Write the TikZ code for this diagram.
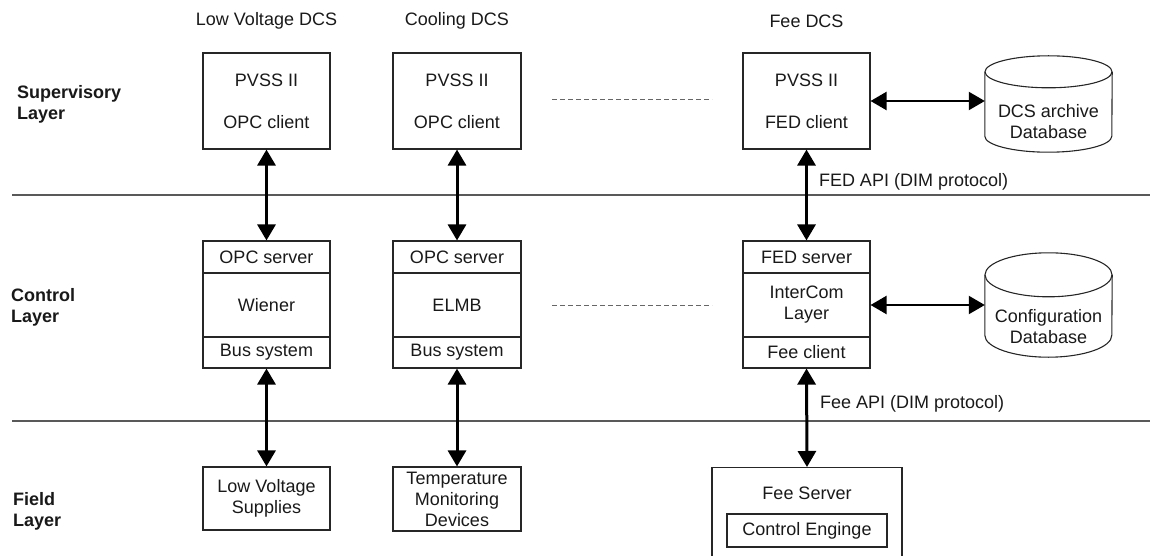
\documentclass[tikz,border=0pt]{standalone}
\usepackage{fontspec}
\setmainfont{Liberation Sans}
\usetikzlibrary{arrows.meta,calc}
\begin{document}
\begin{tikzpicture}[x=1pt,y=-1pt,
  every node/.style={font=\fontsize{18}{21}\selectfont, text=black!90, inner sep=0pt},
  box/.style={draw=black!85, line width=1.1pt, minimum width=127pt, align=center},
  sepline/.style={draw=black!65, line width=1.4pt},
  dotsep/.style={draw=black!60, line width=1pt, dash pattern=on 5pt off 3pt},
  tip/.tip={Triangle[length=16pt,width=18pt]},
  varrow/.style={line width=3pt, tip-tip},
  harrow/.style={line width=2.2pt, tip-tip},
  cyl/.style={draw=black!85, line width=1.1pt},
  layer/.style={font=\bfseries\fontsize{18}{21}\selectfont, align=left, anchor=west},
]
\useasboundingbox (0,0) rectangle (1150,556);
\clip (0,0) rectangle (1150,556);

% layer separators
\draw[sepline] (12,195) -- (1150,195);
\draw[sepline] (12,421) -- (1150,421);

% column headers
\node (h1) at (266.5,21) {Low Voltage DCS};
\node (h2) at (457,21) {Cooling DCS};
\node (h3) at (806.5,21) {Fee DCS};

% layer labels
\node[layer] (L1) at (17,104) {Supervisory\\Layer};
\node[layer] (L2) at (11,307) {Control\\Layer};
\node[layer] (L3) at (13,511.5) {Field\\Layer};

% supervisory boxes
\node[box, minimum height=96pt] (p1) at (266.5,101) {PVSS II\\[21pt]OPC client};
\node[box, minimum height=96pt, minimum width=128pt] (p2) at (457,101) {PVSS II\\[21pt]OPC client};
\node[box, minimum height=96pt] (p3) at (806.5,101) {PVSS II\\[21pt]FED client};

% control stacks
\node[box, minimum height=32pt] (s1) at (266.5,257) {OPC server};
\node[box, minimum height=64pt] (m1) at (266.5,305) {Wiener};
\node[box, minimum height=31pt] (b1) at (266.5,352.5) {Bus system};

\node[box, minimum height=32pt, minimum width=128pt] (s2) at (457,257) {OPC server};
\node[box, minimum height=64pt, minimum width=128pt] (m2) at (457,305) {ELMB};
\node[box, minimum height=31pt, minimum width=128pt] (b2) at (457,352.5) {Bus system};

\node[box, minimum height=32pt] (s3) at (806.5,257) {FED server};
\node[box, minimum height=64pt] (m3) at (806.5,305) {InterCom\\Layer};
\node[box, minimum height=31pt] (b3) at (806.5,352.5) {Fee client};

% field boxes
\node[box, minimum height=63pt] (f1) at (266.5,498.5) {Low Voltage\\Supplies};
\node[box, minimum height=64pt, minimum width=128pt] (f2) at (457,499) {Temperature\\Monitoring\\Devices};
\node[draw=black!85, line width=1.1pt, minimum width=190pt, minimum height=110pt, anchor=north] (fs) at (807,467) {};
\node (fst) at (807,493) {Fee Server};
\node[box, minimum width=160pt, minimum height=33pt] (ce) at (807,530.5) {Control Enginge};

% dashed ellipsis lines
\draw[dotsep] (552,100) -- (712,100);
\draw[dotsep] (552,305) -- (712,305);

% databases
\node[minimum width=127pt, minimum height=96pt] (db1) at (1048.5,104) {};
\draw[cyl] ($(db1.north west)+(0,16)$) -- ($(db1.south west)-(0,16)$)
  arc[start angle=180, end angle=360, x radius=63.5pt, y radius=16pt]
  -- ($(db1.north east)+(0,16)$);
\draw[cyl] ($(db1.north)+(0,16)$) ellipse [x radius=63.5pt, y radius=16pt];
\node[align=center] (db1t) at ($(db1.center)+(0,18)$) {DCS archive\\Database};

\node[minimum width=127pt, minimum height=104pt] (db2) at (1048.5,305) {};
\draw[cyl] ($(db2.north west)+(0,22)$) -- ($(db2.south west)-(0,22)$)
  arc[start angle=180, end angle=360, x radius=63.5pt, y radius=22pt]
  -- ($(db2.north east)+(0,22)$);
\draw[cyl] ($(db2.north)+(0,22)$) ellipse [x radius=63.5pt, y radius=22pt];
\node[align=center] (db2t) at ($(db2.center)+(0,22)$) {Configuration\\Database};

% vertical arrows
\draw[varrow] (p1.south) -- (s1.north);
\draw[varrow] (p2.south) -- (s2.north);
\draw[varrow] (p3.south) -- (s3.north)
  node[pos=0.35, anchor=west, xshift=11pt] {FED API (DIM protocol)};
\draw[varrow] (b1.south) -- (f1.north);
\draw[varrow] (b2.south) -- (f2.north);
\draw[varrow] (b3.south) -- (fs.north)
  node[pos=0.355, anchor=west, xshift=12pt] {Fee API (DIM protocol)};

% horizontal arrows
\draw[harrow] (p3.east) -- (p3.east -| db1.west);
\draw[harrow] (m3.east) -- (m3.east -| db2.west);
\end{tikzpicture}
\end{document}
